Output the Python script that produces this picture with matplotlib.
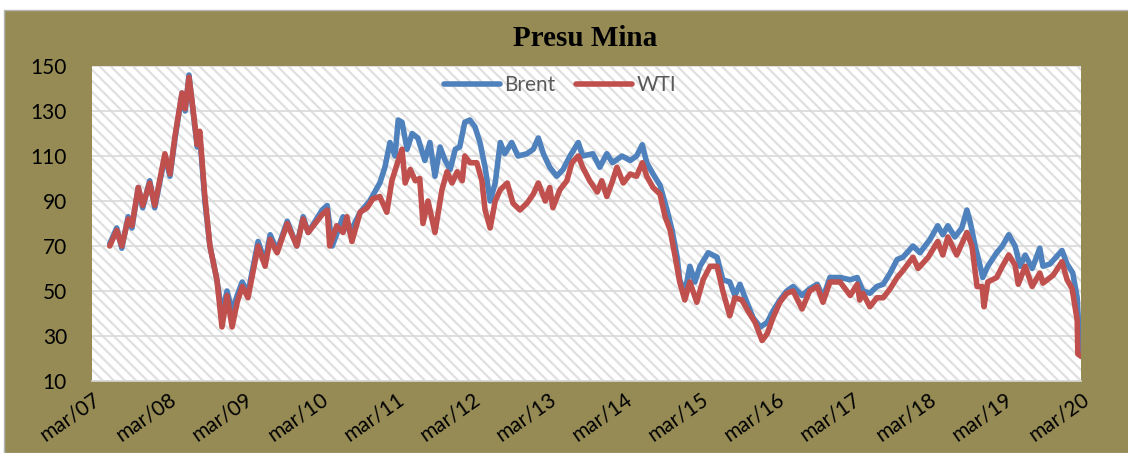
import matplotlib.pyplot as plt
from matplotlib.patches import Rectangle

# months counted from mar/07
brent_month = [2.8, 3.9, 4.7, 5.7, 6.3, 7.3, 8.0, 9.1, 9.9, 11.5, 12.3, 13.1, 14.2, 14.7, 15.3, 15.8,
               16.6, 17.0, 17.8, 18.6, 19.7, 20.5, 21.3, 22.1, 22.9, 23.7, 24.6, 26.2, 27.3, 28.1, 29.2,
               30.8, 32.3, 33.3, 34.1, 36.3, 37.1, 37.9, 39.6, 40.7, 42.3, 43.8, 45.4, 46.2, 47.0, 47.8,
               48.3, 48.9, 49.7, 50.5, 51.4, 52.5, 53.3, 54.1, 54.9, 55.7, 56.5, 57.3, 58.0, 58.8, 59.6,
               60.4, 61.2, 62.0, 62.8, 63.6, 64.4, 65.1, 66.2, 67.2, 68.6, 69.6, 70.4, 71.2, 72.2, 73.3,
               74.3, 75.4, 76.7, 77.4, 79.0, 80.1, 81.2, 82.1, 83.6, 84.9, 85.9, 86.8, 87.5, 88.5, 89.6,
               90.7, 91.5, 92.3, 92.7, 93.5, 94.3, 95.1, 95.9, 97.2, 98.6, 99.5, 100.6, 101.4, 102.2,
               103.3, 104.3, 105.4, 106.5, 107.4, 108.5, 109.6, 110.6, 112.0, 113.2, 114.4, 115.3, 116.4,
               118.0, 119.6, 120.7, 121.6, 122.7, 123.8, 124.8, 125.9, 127.0, 127.9, 129.5, 130.6, 132.2,
               133.4, 134.2, 135.0, 136.1, 137.2, 138.0, 138.5, 139.3, 140.1, 140.5, 141.3, 142.7, 143.6,
               144.6, 145.6, 146.4, 147.2, 148.3, 149.5, 150.0, 151.1, 153.0, 153.8, 154.7, 155.4, 155.8,
               156.0]
brent = [71, 78, 69, 83, 78, 96, 87, 99, 87, 110, 101, 118, 138, 130, 146, 133,
         114, 119, 90, 70, 55, 40, 50, 41, 48, 54, 49, 72, 63, 75, 68,
         81, 70, 83, 76, 86, 88, 70, 83, 76, 85, 90, 98, 105, 116, 110,
         126, 125, 113, 120, 118, 108, 116, 101, 114, 108, 104, 113, 114, 125, 126,
         123, 116, 105, 90, 98, 116, 111, 116, 110, 111, 113, 118, 111, 105, 101,
         104, 110, 116, 110, 111, 105, 111, 107, 110, 108, 110, 115, 107, 102, 97,
         86, 77, 65, 55, 49, 61, 54, 61, 67, 65, 55, 54, 48, 53,
         45, 38, 34, 36, 41, 46, 50, 52, 48, 51, 53, 47, 56,
         56, 55, 56, 50, 49, 52, 53, 58, 64, 65, 70, 67, 73,
         79, 75, 79, 74, 78, 86, 81, 70, 61, 56, 61, 67, 70,
         75, 70, 61, 66, 60, 69, 61, 62, 68, 62, 58, 47, 25,
         22]

wti_month = [2.8, 3.9, 4.7, 5.7, 6.3, 7.3, 8.0, 9.1, 9.9, 11.5, 12.3, 13.1, 14.2, 14.7, 15.3, 15.8,
             16.6, 17.0, 17.8, 18.6, 19.7, 20.5, 21.3, 22.1, 22.9, 23.7, 24.6, 26.2, 27.3, 28.1, 29.2,
             30.8, 32.3, 33.3, 34.1, 36.3, 37.1, 37.5, 38.6, 39.6, 40.2, 41.0, 42.3, 43.4, 44.3, 45.4,
             46.5, 47.3, 48.3, 48.9, 49.4, 50.2, 51.0, 51.7, 52.2, 53.0, 54.1, 55.2, 56.0, 56.8, 57.6,
             58.4, 58.8, 59.6, 60.7, 61.5, 62.0, 62.8, 63.6, 64.4, 65.5, 66.4, 67.5, 68.6, 69.6, 70.4,
             71.5, 72.2, 72.7, 73.8, 74.9, 75.7, 76.7, 77.4, 78.5, 79.7, 80.4, 81.2, 82.0, 82.8, 83.8,
             84.9, 85.9, 86.8, 87.5, 88.5, 89.6, 90.4, 91.2, 92.0, 92.7, 93.5, 94.3, 95.4, 96.4, 97.5,
             98.6, 99.5, 100.6, 101.4, 102.5, 103.5, 104.6, 105.7, 106.5, 107.4, 108.5, 109.6, 110.6,
             112.0, 113.2, 114.4, 115.3, 116.4, 118.0, 119.6, 120.7, 121.1, 121.6, 122.7, 123.8, 124.8,
             125.9, 127.0, 127.9, 129.5, 130.3, 131.9, 133.4, 134.2, 135.0, 136.4, 138.0, 138.8, 139.6,
             140.4, 140.7, 141.3, 142.7, 143.6, 144.6, 145.6, 146.1, 147.2, 148.3, 149.5, 150.0, 151.6,
             153.0, 153.8, 154.6, 155.4, 155.5, 156.0]
wti = [70, 77, 70, 82, 79, 96, 88, 98, 88, 111, 102, 119, 138, 131, 145, 134,
       115, 121, 92, 70, 55, 34, 48, 34, 45, 52, 47, 70, 61, 73, 67,
       80, 70, 82, 76, 84, 86, 70, 79, 76, 83, 72, 85, 87, 91, 92,
       85, 99, 108, 113, 98, 104, 99, 100, 80, 90, 76, 95, 103, 98, 103,
       99, 110, 107, 107, 99, 86, 78, 90, 95, 98, 89, 86, 89, 93, 98,
       90, 96, 87, 95, 99, 107, 110, 105, 99, 94, 99, 92, 98, 105, 98,
       102, 101, 107, 101, 96, 93, 83, 77, 65, 54, 46, 54, 45, 55, 61,
       61, 50, 39, 47, 46, 41, 36, 28, 31, 38, 45, 49, 50,
       42, 50, 52, 45, 54, 54, 48, 53, 46, 49, 43, 47, 47,
       51, 56, 59, 65, 60, 65, 72, 66, 74, 66, 76, 70, 52,
       52, 43, 54, 56, 61, 66, 61.5, 53, 61, 52, 58, 53.5, 57,
       63, 55, 51, 37, 22, 21]

tick_labels = ['mar/07', 'mar/08', 'mar/09', 'mar/10', 'mar/11', 'mar/12', 'mar/13',
               'mar/14', 'mar/15', 'mar/16', 'mar/17', 'mar/18', 'mar/19', 'mar/20']

plt.rcParams['font.family'] = ['Lato', 'DejaVu Sans']
plt.rcParams['hatch.linewidth'] = 1.6

fig = plt.figure(figsize=(11.28, 4.53), dpi=100)
fig.patch.set_facecolor('white')
# olive frame of the chart
fig.patches.append(Rectangle((4 / 1128, 0), 1, 443 / 453, transform=fig.transFigure,
                             facecolor='#968b55', edgecolor='#b5b5b5', lw=1, zorder=-5))

ax = fig.add_axes([92 / 1128, 1 - 381 / 453, 989 / 1128, 315 / 453])
ax.set_zorder(2)
ax.set_facecolor('white')
# diagonal hatch background of the plot area
ax.add_patch(Rectangle((0, 0), 1, 1, transform=ax.transAxes, facecolor='white',
                       edgecolor='#e0e0e0', lw=0, hatch='\\\\\\', zorder=0))

ax.plot(brent_month, brent, color='#4f81bd', lw=4, label='Brent', zorder=3,
        solid_joinstyle='round', solid_capstyle='round')
ax.plot(wti_month, wti, color='#c0504d', lw=4, label='WTI', zorder=4,
        solid_joinstyle='round', solid_capstyle='round')

ax.set_xlim(0, 156)
ax.set_ylim(10, 150)
ax.set_yticks(range(10, 151, 20))
ax.yaxis.grid(True, color='#d9d9d9', lw=1.2, zorder=1)
ax.set_axisbelow(True)
ax.set_xticks(range(0, 157, 12))
ax.set_xticklabels(tick_labels, rotation=35, ha='right', rotation_mode='anchor')
ax.tick_params(axis='both', length=0, labelsize=15, colors='black')
ax.tick_params(axis='y', pad=18)
ax.tick_params(axis='x', pad=6)
for s in ['top', 'left', 'right']:
    ax.spines[s].set_visible(False)
ax.spines['bottom'].set_color('#d9d9d9')
ax.spines['bottom'].set_linewidth(1.2)

leg = ax.legend(loc='upper center', ncol=2, frameon=False, fontsize=15,
                handlelength=2.7, columnspacing=1.0, handletextpad=0.2,
                bbox_to_anchor=(0.473, 1.03))
for t in leg.get_texts():
    t.set_color('#595959')

fig.text(585 / 1128, 1 - 39 / 453, 'Presu Mina', ha='center', va='center',
         fontsize=21, fontweight='bold', family=['Liberation Serif', 'DejaVu Serif'])

fig.savefig('out.png', dpi=100)
